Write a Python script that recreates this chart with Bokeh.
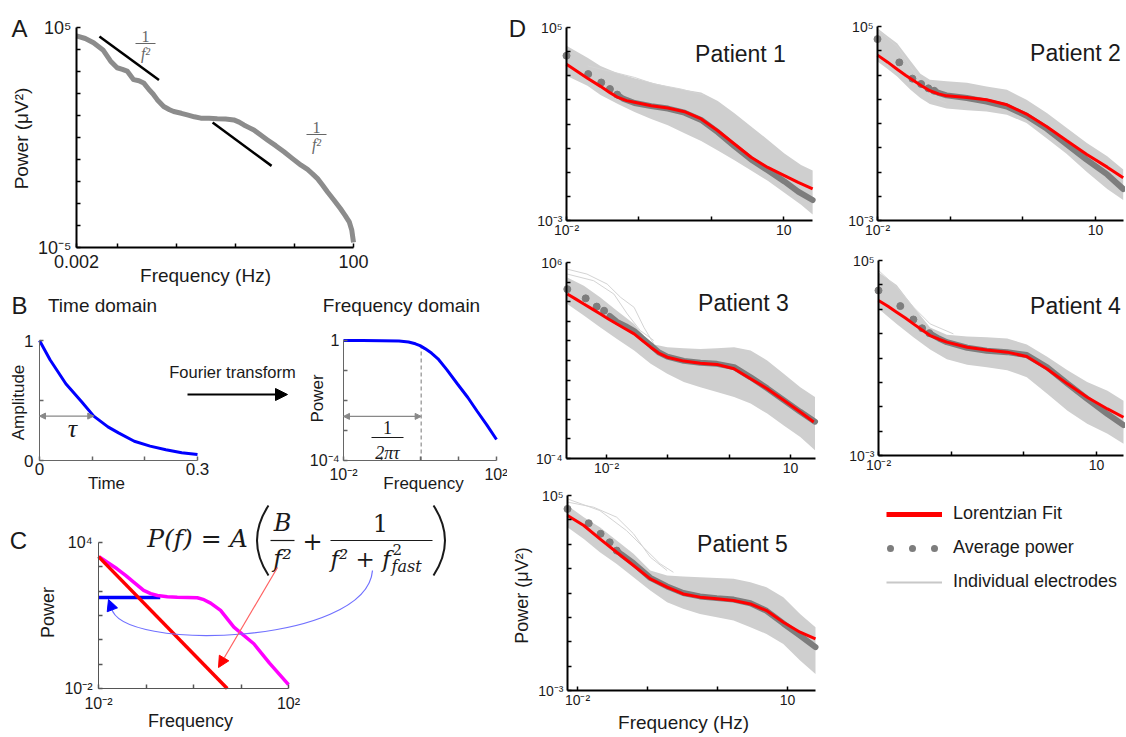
import numpy as np
from bokeh.plotting import figure
from bokeh.models import (Range1d, FixedTicker, CustomJSTickFormatter, Label,
                          Arrow, NormalHead, Legend, LegendItem)
from bokeh.layouts import row, column
from bokeh.embed import file_html
from bokeh.resources import INLINE

SANS = "Liberation Sans"
SERIF = "Liberation Serif"
MATH = "DejaVu Serif"
TXT = "#1a1a1a"


def L(a):
    return 10.0 ** np.asarray(a, dtype=float)

# ======================= DATA =======================
# ---- Panel A: power spectrum (log10 frequency, log10 power)
a_logf = [-2.70, -2.55, -2.41, -2.25, -2.12, -2.01, -1.92, -1.84, -1.73, -1.64, -1.56, -1.47,
          -1.40, -1.33, -1.22, -1.12, -1.05, -0.92, -0.82, -0.70, -0.59, -0.45, -0.31, -0.17,
          -0.03, 0.06, 0.14, 0.22, 0.31, 0.42, 0.54, 0.68, 0.82, 0.96, 1.11, 1.22, 1.30, 1.39,
          1.47, 1.56, 1.67, 1.78, 1.86, 1.93, 1.97, 2.00]
a_logp = [4.62, 4.50, 4.31, 3.98, 3.47, 3.17, 3.10, 3.02, 2.63, 2.58, 2.48, 2.18,
          1.98, 1.72, 1.41, 1.26, 1.18, 1.10, 1.03, 0.94, 0.88, 0.87, 0.85, 0.84,
          0.80, 0.70, 0.57, 0.46, 0.34, 0.12, -0.11, -0.37, -0.65, -0.95, -1.26, -1.45, -1.64, -1.87,
          -2.15, -2.48, -2.85, -3.24, -3.55, -3.85, -4.20, -4.77]
a_slope1_logf = [-2.31, -1.30]
a_slope1_logp = [4.59, 2.61]
a_slope2_logf = [-0.39, 0.61]
a_slope2_logp = [0.68, -1.29]
a_xmajor = [0.002, 100.0]
a_xminor = [0.01, 0.1, 1.0, 10.0]
a_xlabels = ["0.002", "100"]
a_ymajor = [1e-5, 1e5]
a_yminor = [1e-4, 1e-3, 1e-2, 1e-1, 1.0, 10.0, 1e2, 1e3, 1e4]
a_ylabels = ["10\u207b\u2075", "10\u2075"]

# ---- Panel B: time domain (exponential decay)
bt_time = [0.0, 0.02, 0.05, 0.08, 0.103, 0.13, 0.15, 0.18, 0.21, 0.24, 0.27, 0.30]
bt_amp = [1.0, 0.84, 0.64, 0.49, 0.37, 0.28, 0.23, 0.16, 0.12, 0.09, 0.065, 0.05]
bt_tau = 0.103
bt_tau_amp = 0.37
bt_xmajor = [0.0, 0.3]
bt_xminor = [0.1, 0.2]
bt_xlabels = ["0", "0.3"]
bt_ymajor = [0.0, 1.0]
bt_yminor = [0.5]
bt_ylabels = ["0", "1"]

# ---- Panel B: frequency domain (Lorentzian)
bf_logf = [-2.0, -1.5, -1.0, -0.55, -0.30, -0.12, 0.0, 0.13, 0.30, 0.47, 0.70, 0.98, 1.25, 1.49, 1.75, 2.0]
bf_logp = [0.0, 0.0, -0.005, -0.02, -0.05, -0.11, -0.17, -0.27, -0.42, -0.61, -0.97, -1.45, -1.90, -2.35, -2.82, -3.30]
bf_knee_logf = 0.03
bf_knee_logp = -0.22
bf_arrow_logp = -2.53
bf_xmajor = [0.01, 100.0]
bf_xminor = [0.1, 1.0, 10.0]
bf_xlabels = ["10\u207b\u00b2", "10\u00b2"]
bf_ymajor = [1e-4, 1.0]
bf_yminor = [1e-3, 1e-2, 1e-1]
bf_ylabels = ["10\u207b\u2074", "1"]

# ---- Panel C: model components
c_total_logf = [-1.99, -1.80, -1.61, -1.43, -1.26, -1.05, -0.90, -0.76, -0.55, -0.34, -0.12, 0.08, 0.22, 0.36, 0.57, 0.85, 1.27, 1.60, 2.0]
c_total_logp = [3.42, 3.17, 2.92, 2.65, 2.37, 2.03, 1.90, 1.82, 1.77, 1.75, 1.74, 1.73, 1.65, 1.51, 1.21, 0.52, -0.16, -0.96, -1.84]
c_slow_logf = [-2.0, 0.71]
c_slow_logp = [3.42, -2.0]
c_fast_logf = [-2.0, -0.7]
c_fast_logp = [1.74, 1.74]
c_xmajor = [0.01, 100.0]
c_xminor = [0.1, 1.0, 10.0]
c_xlabels = ["10\u207b\u00b2", "10\u00b2"]
c_ymajor = [0.01, 1e4]
c_yminor = [0.1, 1.0, 10.0, 100.0, 1000.0]
c_ylabels = ["10\u207b\u00b2", "10\u2074"]

# ---- Panel D: patients (log10 frequency, log10 power)
p1_fit_logf = [-2.0, -1.85, -1.71, -1.53, -1.40, -1.29, -1.17, -1.06, -0.83, -0.60, -0.37, -0.14, 0.09, 0.32, 0.55, 0.78, 1.01, 1.20, 1.40]
p1_fit_logp = [3.48, 3.18, 2.90, 2.56, 2.30, 2.10, 1.97, 1.90, 1.76, 1.66, 1.51, 1.21, 0.72, 0.17, -0.38, -0.80, -1.14, -1.42, -1.69]
p1_dot_logf = [-2.0, -1.70, -1.52, -1.40, -1.30]
p1_dot_logp = [3.83, 3.07, 2.72, 2.45, 2.22]
p1_avg_logf = [-1.30, -1.22, -1.06, -0.83, -0.60, -0.37, -0.14, 0.09, 0.32, 0.55, 0.78, 1.01, 1.20, 1.40]
p1_avg_logp = [2.22, 2.05, 1.87, 1.74, 1.64, 1.47, 1.17, 0.66, 0.08, -0.47, -0.92, -1.38, -1.80, -2.15]
p1_band_logf = [-2.0, -1.71, -1.53, -1.29, -1.06, -0.83, -0.60, -0.37, -0.14, 0.09, 0.32, 0.55, 0.78, 1.01, 1.24, 1.40]
p1_band_hi = [4.24, 3.75, 3.40, 3.10, 2.90, 2.72, 2.55, 2.42, 2.31, 1.95, 1.45, 0.90, 0.35, -0.22, -0.70, -0.93]
p1_band_lo = [3.00, 2.59, 2.20, 1.83, 1.50, 1.21, 0.95, 0.62, 0.30, -0.10, -0.50, -0.93, -1.35, -1.85, -2.35, -2.75]
p1_elec_logf = [-1.71, -1.34, -1.06, -0.79, -0.42, -0.10]
p1_elec_logp = [3.41, 3.14, 2.93, 2.66, 2.45, 2.20]

p2_fit_logf = [-2.0, -1.86, -1.73, -1.61, -1.50, -1.39, -1.28, -1.16, -1.05, -0.77, -0.50, -0.22, 0.05, 0.33, 0.60, 0.88, 1.16, 1.38]
p2_fit_logp = [3.82, 3.53, 3.24, 2.98, 2.76, 2.55, 2.35, 2.22, 2.14, 2.07, 1.98, 1.77, 1.39, 0.87, 0.30, -0.28, -0.80, -1.24]
p2_dot_logf = [-2.0, -1.70, -1.52, -1.40, -1.30, -1.22]
p2_dot_logp = [4.48, 3.52, 2.85, 2.63, 2.45, 2.35]
p2_avg_logf = [-1.22, -1.15, -1.05, -0.77, -0.50, -0.22, 0.05, 0.33, 0.60, 0.88, 1.16, 1.38]
p2_avg_logp = [2.35, 2.25, 2.16, 2.05, 1.90, 1.70, 1.32, 0.78, 0.15, -0.50, -1.10, -1.70]
p2_band_logf = [-2.0, -1.86, -1.73, -1.55, -1.41, -1.28, -1.05, -0.77, -0.50, -0.22, 0.05, 0.33, 0.60, 0.88, 1.16, 1.38]
p2_band_hi = [4.93, 4.60, 4.31, 3.60, 3.05, 2.80, 2.74, 2.68, 2.53, 2.39, 1.98, 1.43, 0.82, 0.20, -0.35, -0.90]
p2_band_lo = [3.56, 3.25, 2.94, 2.40, 2.05, 1.80, 1.62, 1.55, 1.50, 1.36, 1.02, 0.38, -0.25, -1.00, -1.70, -2.15]
p2_elec_logf = [-2.0, -1.73, -1.55, -1.41, -1.28, -1.05]
p2_elec_logp = [4.86, 4.18, 3.35, 2.80, 2.12, 1.84]

p3_fit_logf = [-2.64, -2.50, -2.37, -2.23, -2.10, -1.97, -1.83, -1.69, -1.55, -1.42, -1.28, -1.15, -1.01, -0.74, -0.47, -0.20, 0.08, 0.35, 0.62, 0.89, 1.16, 1.38]
p3_fit_logp = [4.39, 4.13, 3.88, 3.62, 3.37, 3.12, 2.86, 2.61, 2.36, 2.03, 1.68, 1.38, 1.17, 0.97, 0.86, 0.80, 0.58, 0.07, -0.44, -1.03, -1.63, -2.14]
p3_dot_logf = [-2.64, -2.34, -2.16, -2.04]
p3_dot_logp = [4.64, 4.17, 3.75, 3.54]
p3_avg_logf = [-1.95, -1.83, -1.69, -1.55, -1.42, -1.28, -1.15, -1.01, -0.74, -0.47, -0.20, 0.08, 0.35, 0.62, 0.89, 1.16, 1.40]
p3_avg_logp = [3.28, 2.97, 2.75, 2.50, 2.15, 1.78, 1.42, 1.20, 0.98, 0.88, 0.83, 0.66, 0.14, -0.42, -1.02, -1.62, -2.12]
p3_band_logf = [-2.64, -2.37, -2.10, -1.83, -1.55, -1.28, -1.01, -0.74, -0.47, -0.20, 0.08, 0.35, 0.62, 0.89, 1.16, 1.40]
p3_band_hi = [5.24, 4.81, 4.22, 3.54, 2.86, 1.85, 1.68, 1.62, 1.59, 1.62, 1.68, 1.51, 1.00, 0.32, -0.36, -0.86]
p3_band_lo = [3.88, 3.30, 2.69, 2.10, 1.51, 0.83, 0.32, -0.10, -0.36, -0.61, -0.86, -1.20, -1.71, -2.31, -2.90, -3.58]
p3_elec1_logf = [-2.64, -2.32, -1.99, -1.77, -1.55, -1.39, -1.23]
p3_elec1_logp = [5.66, 5.41, 4.90, 4.22, 3.71, 2.69, 1.85]
p3_elec2_logf = [-2.64, -2.21, -1.88, -1.66, -1.45, -1.23]
p3_elec2_logp = [5.41, 5.07, 4.39, 3.37, 2.53, 2.02]

p4_fit_logf = [-2.0, -1.87, -1.75, -1.63, -1.52, -1.40, -1.29, -1.17, -1.06, -0.78, -0.51, -0.23, 0.04, 0.32, 0.60, 0.87, 1.15, 1.37]
p4_fit_logp = [3.36, 3.12, 2.88, 2.64, 2.40, 2.15, 1.92, 1.77, 1.65, 1.44, 1.33, 1.24, 1.06, 0.55, -0.06, -0.61, -1.09, -1.43]
p4_dot_logf = [-2.0, -1.70, -1.52, -1.40, -1.30]
p4_dot_logp = [3.77, 3.13, 2.58, 2.22, 2.02]
p4_avg_logf = [-1.30, -1.17, -1.06, -0.78, -0.51, -0.23, 0.04, 0.32, 0.60, 0.87, 1.15, 1.37]
p4_avg_logp = [2.02, 1.80, 1.65, 1.42, 1.30, 1.24, 1.12, 0.62, -0.05, -0.68, -1.30, -1.75]
p4_band_logf = [-2.0, -1.75, -1.52, -1.29, -1.06, -0.78, -0.51, -0.23, 0.04, 0.32, 0.60, 0.87, 1.15, 1.37]
p4_band_hi = [4.52, 4.00, 3.10, 2.25, 1.95, 1.88, 1.85, 1.80, 1.55, 1.05, 0.50, 0.02, -0.34, -0.75]
p4_band_lo = [3.02, 2.40, 1.85, 1.35, 0.95, 0.72, 0.62, 0.50, 0.21, -0.47, -1.16, -1.70, -2.11, -2.52]
p4_elec_logf = [-2.0, -1.75, -1.52, -1.29, -0.97]
p4_elec_logp = [4.59, 3.91, 3.09, 2.40, 1.99]

p5_fit_logf = [-2.143, -1.91, -1.68, -1.44, -1.20, -0.96, -0.72, -0.49, -0.25, -0.01, 0.23, 0.47, 0.70, 0.94, 1.18, 1.40]
p5_fit_logp = [4.18, 3.77, 3.22, 2.67, 2.13, 1.58, 1.24, 0.96, 0.83, 0.76, 0.69, 0.55, 0.28, -0.20, -0.61, -0.88]
p5_dot_logf = [-2.143, -1.84, -1.67, -1.54, -1.44]
p5_dot_logp = [4.45, 3.86, 3.43, 3.08, 2.74]
p5_avg_logf = [-1.44, -1.37, -1.20, -0.96, -0.72, -0.49, -0.25, -0.01, 0.23, 0.47, 0.70, 0.94, 1.18, 1.40]
p5_avg_logp = [2.74, 2.58, 2.22, 1.62, 1.27, 1.00, 0.86, 0.79, 0.73, 0.58, 0.27, -0.25, -0.75, -1.22]
p5_band_logf = [-2.143, -1.91, -1.68, -1.44, -1.20, -0.96, -0.72, -0.49, -0.25, -0.01, 0.23, 0.47, 0.70, 0.94, 1.18, 1.40]
p5_band_hi = [4.59, 4.11, 3.70, 3.15, 2.61, 1.92, 1.72, 1.68, 1.65, 1.62, 1.58, 1.44, 1.24, 0.83, 0.14, -0.40]
p5_band_lo = [3.70, 3.22, 2.67, 2.19, 1.65, 1.10, 0.62, 0.35, 0.14, 0.01, -0.13, -0.40, -0.68, -1.09, -1.77, -2.32]
p5_elec1_logf = [-2.143, -1.77, -1.44, -1.20, -0.96, -0.72]
p5_elec1_logp = [4.73, 4.52, 4.11, 3.43, 2.47, 1.92]
p5_elec2_logf = [-2.143, -1.68, -1.30, -1.06, -0.82, -0.63]
p5_elec2_logp = [4.86, 4.38, 3.56, 2.88, 2.20, 1.85]

d_xmajor = [0.01, 10.0]
d_xminor = [0.1, 1.0]
d_xlabels = ["10\u207b\u00b2", "10"]
d_ymajor_a = [1e-3, 1e5]
d_yminor_a = [1e-2, 1e-1, 1.0, 10.0, 1e2, 1e3, 1e4]
d_ylabels_a = ["10\u207b\u00b3", "10\u2075"]
d_ymajor_b = [1e-4, 1e6]
d_yminor_b = [1e-3, 1e-2, 1e-1, 1.0, 10.0, 1e2, 1e3, 1e4, 1e5]
d_ylabels_b = ["10\u207b\u2074", "10\u2076"]

legend_labels = ["Lorentzian Fit", "Average power", "Individual electrodes"]

# ======================= HELPERS =======================
JS = """
for (let i = 0; i < t.length; i++) {
  if (Math.abs(tick - t[i]) <= 1e-9 * Math.abs(t[i])) { return l[i]; }
}
return "";
"""


def _map(v0, v1, p0, p1, q, lg):
    if lg:
        a, b = np.log10(v0), np.log10(v1)
        return float(10 ** (a + (q - p0) / (p1 - p0) * (b - a)))
    return float(v0 + (q - p0) / (p1 - p0) * (v1 - v0))


class Panel:
    """A figure whose frame fills its whole box; the axes sit at fixed data locations.
    box = page-pixel box of the figure, inner = page-pixel box spanned by the axes,
    xlim / ylim = data values at the inner box edges."""

    def __init__(self, box, inner, xlim, ylim, xlog=False, ylog=False, axes=True):
        bx0, by0, bx1, by1 = box
        ax0, ay0, ax1, ay1 = inner
        self.inner, self.xlim, self.ylim, self.xlog, self.ylog = inner, xlim, ylim, xlog, ylog
        xr = (_map(xlim[0], xlim[1], ax0, ax1, bx0, xlog), _map(xlim[0], xlim[1], ax0, ax1, bx1, xlog))
        yr = (_map(ylim[0], ylim[1], ay1, ay0, by1, ylog), _map(ylim[0], ylim[1], ay1, ay0, by0, ylog))
        kw = {}
        if not axes:
            kw = dict(x_axis_location=None, y_axis_location=None)
        self.fig = figure(width=bx1 - bx0, height=by1 - by0,
                          x_range=Range1d(*xr), y_range=Range1d(*yr),
                          x_axis_type="log" if xlog else "linear",
                          y_axis_type="log" if ylog else "linear",
                          min_border_left=0, min_border_right=0,
                          min_border_top=0, min_border_bottom=0,
                          toolbar_location=None, tools="", output_backend="svg", **kw)
        p = self.fig
        p.grid.visible = False
        p.outline_line_color = None
        p.background_fill_color = "white"
        p.border_fill_color = "white"

    def d(self, X, Y):
        ax0, ay0, ax1, ay1 = self.inner
        return (_map(self.xlim[0], self.xlim[1], ax0, ax1, X, self.xlog),
                _map(self.ylim[0], self.ylim[1], ay1, ay0, Y, self.ylog))

    def text(self, X, Y, s, size, font=SANS, style="normal", color=TXT,
             align="center", baseline="middle", angle=0.0):
        x, y = self.d(X, Y)
        self.fig.add_layout(Label(x=x, y=y, text=s, text_font=font,
                                  text_font_size=f"{size}px", text_font_style=style,
                                  text_color=color, text_align=align,
                                  text_baseline=baseline, angle=angle))

    def seg(self, X0, Y0, X1, Y1, color="black", width=1.0, dash="solid"):
        x0, y0 = self.d(X0, Y0)
        x1, y1 = self.d(X1, Y1)
        self.fig.segment(x0=[x0], y0=[y0], x1=[x1], y1=[y1], line_color=color,
                         line_width=width, line_dash=dash)

    def frac(self, X, Ynum, Ybar, Yden, num, den, half, size, color=TXT,
             font=SERIF, num_style="normal", den_style="italic", bar_w=1.2):
        self.text(X, Ynum, num, size, font=font, style=num_style, color=color)
        self.seg(X - half, Ybar, X + half, Ybar, color=color, width=bar_w)
        self.text(X, Yden, den, size, font=font, style=den_style, color=color)


def style_axes(P, xmaj, xmin, xlab, ymaj, ymin, ylab, size, lw=2.0, color="black",
               tick=4, xstand=2, ystand=5):
    p = P.fig
    xa, ya = p.xaxis[0], p.yaxis[0]
    xa.fixed_location = P.ylim[0]
    ya.fixed_location = P.xlim[0]
    xa.bounds = tuple(P.xlim)
    ya.bounds = tuple(P.ylim)
    for ax, maj, mn, lab, st in ((xa, xmaj, xmin, xlab, xstand), (ya, ymaj, ymin, ylab, ystand)):
        ax.ticker = FixedTicker(ticks=maj, minor_ticks=mn)
        ax.formatter = CustomJSTickFormatter(args=dict(t=maj, l=lab), code=JS)
        ax.major_tick_in = tick
        ax.major_tick_out = 0
        ax.minor_tick_in = tick
        ax.minor_tick_out = 0
        ax.axis_line_width = lw
        ax.axis_line_color = color
        ax.major_tick_line_color = color
        ax.minor_tick_line_color = color
        ax.major_tick_line_width = 1.5
        ax.minor_tick_line_width = 1.5
        ax.major_label_text_font = SANS
        ax.major_label_text_font_size = f"{size}px"
        ax.major_label_text_color = TXT
        ax.major_label_standoff = st


# ======================= PANEL A =======================
A = Panel((0, 0, 507, 287), (76, 27, 353, 247), (0.002, 100.0), (1e-5, 1e5), True, True)
style_axes(A, a_xmajor, a_xminor, a_xlabels, a_ymajor, a_yminor, a_ylabels, 18,
           lw=2, tick=4, xstand=7, ystand=5)
A.fig.line(L(a_logf), L(a_logp), line_color="#8c8c8c", line_width=5, line_join="round")
A.fig.line(L(a_slope1_logf), L(a_slope1_logp), line_color="black", line_width=2.5)
A.fig.line(L(a_slope2_logf), L(a_slope2_logp), line_color="black", line_width=2.5)
A.frac(145, 36, 43, 53, "1", "f\u00b2", 10, 16, color="#666666")
A.frac(316, 127, 134, 144, "1", "f\u00b2", 10, 16, color="#666666")
A.text(19, 28, "A", 24, baseline="alphabetic")
A.text(21, 138, "Power (\u03bcV\u00b2)", 19, angle=np.pi / 2)
A.text(205, 275, "Frequency (Hz)", 19)

# ======================= PANEL B (time) =======================
Bt = Panel((0, 287, 300, 494), (39, 340, 197, 460), (0.0, 0.3), (0.0, 1.0))
style_axes(Bt, bt_xmajor, bt_xminor, bt_xlabels, bt_ymajor, bt_yminor, bt_ylabels, 17,
           lw=1, color="#666666", tick=4, xstand=2, ystand=6)
Bt.fig.line(bt_time, bt_amp, line_color="#0000ff", line_width=3)
Bt.fig.add_layout(Arrow(x_start=0.0, y_start=bt_tau_amp, x_end=bt_tau, y_end=bt_tau_amp,
                        line_color="#888888", line_width=1.2,
                        start=NormalHead(size=6, fill_color="#888888", line_color="#888888"),
                        end=NormalHead(size=6, fill_color="#888888", line_color="#888888")))
Bt.text(72, 428, "\u03c4", 26, font=SERIF, style="italic")
Bt.text(19, 305, "B", 24, baseline="alphabetic")
Bt.text(102, 305, "Time domain", 19)
Bt.text(18, 402, "Amplitude", 17, angle=np.pi / 2)
Bt.text(106, 483, "Time", 17)
Bt.text(232, 371, "Fourier transform", 16.5)
fx0, fy0 = Bt.d(187, 394)
fx1, fy1 = Bt.d(287, 394)
Bt.fig.add_layout(Arrow(x_start=fx0, y_start=fy0, x_end=fx1, y_end=fy1, line_color="black",
                        line_width=2.2,
                        end=NormalHead(size=12, fill_color="black", line_color="black")))

# ======================= PANEL B (frequency) =======================
Bf = Panel((300, 287, 507, 494), (343, 340, 496, 460), (0.01, 100.0), (1e-4, 1.0), True, True)
style_axes(Bf, bf_xmajor, bf_xminor, bf_xlabels, bf_ymajor, bf_yminor, bf_ylabels, 16,
           lw=1, color="#666666", tick=4, xstand=5, ystand=4)
Bf.fig.segment(x0=[10 ** bf_knee_logf], y0=[1e-4], x1=[10 ** bf_knee_logf], y1=[10 ** bf_knee_logp],
               line_color="#777777", line_width=1, line_dash="4 3")
Bf.fig.line(L(bf_logf), L(bf_logp), line_color="#0000ff", line_width=3)
Bf.fig.add_layout(Arrow(x_start=0.01, y_start=10 ** bf_arrow_logp, x_end=10 ** bf_knee_logf,
                        y_end=10 ** bf_arrow_logp, line_color="#888888", line_width=1.2,
                        start=NormalHead(size=6, fill_color="#888888", line_color="#888888"),
                        end=NormalHead(size=6, fill_color="#888888", line_color="#888888")))
Bf.frac(387, 427, 437, 452, "1", "2\u03c0\u03c4", 16, 18, color=TXT)
Bf.text(401, 305, "Frequency domain", 19)
Bf.text(317, 398, "Power", 17, angle=np.pi / 2)
Bf.text(423, 483, "Frequency", 17)

# ======================= PANEL C =======================
C = Panel((0, 494, 507, 736), (98, 542, 288, 688), (0.01, 100.0), (0.01, 1e4), True, True)
style_axes(C, c_xmajor, c_xminor, c_xlabels, c_ymajor, c_yminor, c_ylabels, 16,
           lw=1, color="#555555", tick=4, xstand=6, ystand=6)
C.fig.line(L(c_fast_logf), L(c_fast_logp), line_color="#0000ff", line_width=3.5)
C.fig.line(L(c_total_logf), L(c_total_logp), line_color="#ff00ff", line_width=3.5)
C.fig.line(L(c_slow_logf), L(c_slow_logp), line_color="#ff0000", line_width=3.5)
# formula
C.text(197, 538, "P(f) = A", 25, font=MATH, style="italic")
for (xa_, ya_), (xc_, yc_), (xb_, yb_) in (((268, 505), (245, 540), (268, 575)),
                                        ((433, 505), (456, 540), (433, 575))):
    x0, y0 = C.d(xa_, ya_)
    cx, cy = C.d(xc_, yc_)
    x1, y1 = C.d(xb_, yb_)
    C.fig.quadratic(x0=[x0], y0=[y0], x1=[x1], y1=[y1], cx=[cx], cy=[cy],
                    line_color=TXT, line_width=2)
C.frac(282, 522, 540, 558, "B", "f\u00b2", 12, 24, font=MATH, num_style="italic")
C.text(312, 540, "+", 24, font=MATH)
C.text(380, 522, "1", 24, font=MATH)
C.seg(330, 540, 432, 540, color=TXT, width=1.2)
C.text(330, 558, "f\u00b2 + f", 23, font=MATH, style="italic", align="left")
C.text(392, 549, "2", 15, font=MATH, align="left")
C.text(391, 566, "fast", 16, font=MATH, style="italic", align="left")
# arrows
rx0, ry0 = C.d(277, 567)
rx1, ry1 = C.d(218, 667)
C.fig.add_layout(Arrow(x_start=rx0, y_start=ry0, x_end=rx1, y_end=ry1, line_color="#ff6060",
                       line_width=1.2, end=NormalHead(size=11, fill_color="#ff0000", line_color="#ff0000")))
bx0_, by0_ = C.d(372, 570)
bcx0, bcy0 = C.d(366, 645)
bcx1, bcy1 = C.d(118, 652)
bx1_, by1_ = C.d(111, 607)
C.fig.bezier(x0=[bx0_], y0=[by0_], x1=[bx1_], y1=[by1_], cx0=[bcx0], cy0=[bcy0],
             cx1=[bcx1], cy1=[bcy1], line_color="#7070ff", line_width=1.2)
hx0, hy0 = C.d(111, 607)
hx1, hy1 = C.d(108, 599)
C.fig.add_layout(Arrow(x_start=hx0, y_start=hy0, x_end=hx1, y_end=hy1, line_color="#0000ff",
                       line_width=1.2, end=NormalHead(size=11, fill_color="#0000ff", line_color="#0000ff")))
C.text(18, 540, "C", 24, baseline="alphabetic")
C.text(47, 612, "Power", 18, angle=np.pi / 2)
C.text(190, 720, "Frequency", 18)

# ======================= PANEL D =======================
BAND = "#cfcfcf"
ELEC = "#d4d4d4"
AVG = "#7d7d7d"


def patient(P, fit_f, fit_p, dot_f, dot_p, avg_f, avg_p, band_f, lo, hi, elecs, ymaj, ymin, ylab):
    style_axes(P, d_xmajor, d_xminor, d_xlabels, ymaj, ymin, ylab, 14, lw=2, tick=4,
               xstand=1, ystand=4)
    p = P.fig
    p.varea(x=L(band_f), y1=L(lo), y2=L(hi), fill_color=BAND)
    for ef, ep in elecs:
        p.line(L(ef), L(ep), line_color=ELEC, line_width=1)
    p.line(L(avg_f), L(avg_p), line_color=AVG, line_width=6, line_cap="round")
    p.scatter(L(dot_f), L(dot_p), size=7, color=AVG)
    p.line(L(fit_f), L(fit_p), line_color="#ff0000", line_width=3)


P1 = Panel((507, 0, 820, 244), (566, 27, 812, 220), (0.01, 10 ** 1.398), (1e-3, 1e5), True, True)
patient(P1, p1_fit_logf, p1_fit_logp, p1_dot_logf, p1_dot_logp, p1_avg_logf, p1_avg_logp,
        p1_band_logf, p1_band_lo, p1_band_hi, [(p1_elec_logf, p1_elec_logp)],
        d_ymajor_a, d_yminor_a, d_ylabels_a)
P1.text(740, 53, "Patient 1", 23, baseline="alphabetic")
P1.text(517, 28, "D", 24, baseline="alphabetic")

P2 = Panel((820, 0, 1125, 244), (877, 26, 1123, 220), (0.01, 10 ** 1.384), (1e-3, 1e5), True, True)
patient(P2, p2_fit_logf, p2_fit_logp, p2_dot_logf, p2_dot_logp, p2_avg_logf, p2_avg_logp,
        p2_band_logf, p2_band_lo, p2_band_hi, [(p2_elec_logf, p2_elec_logp)],
        d_ymajor_a, d_yminor_a, d_ylabels_a)
P2.text(1075, 52, "Patient 2", 23, baseline="alphabetic")

P3 = Panel((507, 244, 820, 482), (566, 262, 815, 458), (10 ** -2.653, 10 ** 1.408), (1e-4, 1e6), True, True)
patient(P3, p3_fit_logf, p3_fit_logp, p3_dot_logf, p3_dot_logp, p3_avg_logf, p3_avg_logp,
        p3_band_logf, p3_band_lo, p3_band_hi,
        [(p3_elec1_logf, p3_elec1_logp), (p3_elec2_logf, p3_elec2_logp)],
        d_ymajor_b, d_yminor_b, d_ylabels_b)
P3.text(743, 302, "Patient 3", 23, baseline="alphabetic")

P4 = Panel((820, 244, 1125, 482), (878, 260, 1123, 455), (0.01, 10 ** 1.370), (1e-3, 1e5), True, True)
patient(P4, p4_fit_logf, p4_fit_logp, p4_dot_logf, p4_dot_logp, p4_avg_logf, p4_avg_logp,
        p4_band_logf, p4_band_lo, p4_band_hi, [(p4_elec_logf, p4_elec_logp)],
        d_ymajor_a, d_yminor_a, d_ylabels_a)
P4.text(1075, 305, "Patient 4", 23, baseline="alphabetic")

P5 = Panel((507, 482, 820, 736), (567, 495, 815, 690), (10 ** -2.143, 10 ** 1.400), (1e-3, 1e5), True, True)
patient(P5, p5_fit_logf, p5_fit_logp, p5_dot_logf, p5_dot_logp, p5_avg_logf, p5_avg_logp,
        p5_band_logf, p5_band_lo, p5_band_hi,
        [(p5_elec1_logf, p5_elec1_logp), (p5_elec2_logf, p5_elec2_logp)],
        d_ymajor_a, d_yminor_a, d_ylabels_a)
P5.text(742, 543, "Patient 5", 23, baseline="alphabetic")
P5.text(521, 595, "Power (\u03bcV\u00b2)", 18, angle=np.pi / 2)
P5.text(683, 722, "Frequency (Hz)", 19)

# ======================= LEGEND =======================
LG = Panel((820, 482, 1125, 736), (820, 482, 1125, 736), (0.0, 1.0), (0.0, 1.0), axes=False)
r_fit = LG.fig.line([-5.0, -4.0], [-5.0, -5.0], line_color="#ff0000", line_width=5)
r_avg = LG.fig.line([-5.0, -4.0], [-5.0, -5.0], line_color=AVG, line_width=7, line_dash="0 22",
                    line_dash_offset=18, line_cap="round")
r_ele = LG.fig.line([-5.0, -4.0], [-5.0, -5.0], line_color="#c8c8c8", line_width=2)
leg = Legend(items=[LegendItem(label=legend_labels[0], renderers=[r_fit]),
                    LegendItem(label=legend_labels[1], renderers=[r_avg]),
                    LegendItem(label=legend_labels[2], renderers=[r_ele])],
             location=(66, 144), margin=0, padding=10, border_line_color=None,
             background_fill_alpha=0, label_text_font=SANS, label_text_font_size="18px",
             label_text_color=TXT, glyph_width=56, glyph_height=20, label_height=20,
             label_standoff=11, spacing=13)
LG.fig.add_layout(leg)

layout = row(column(A.fig, row(Bt.fig, Bf.fig), C.fig),
             column(row(P1.fig, P2.fig), row(P3.fig, P4.fig), row(P5.fig, LG.fig)))

with open("out.html", "w", encoding="utf-8") as fh:
    fh.write(file_html(layout, INLINE, title="Power spectra and Lorentzian fits"))
